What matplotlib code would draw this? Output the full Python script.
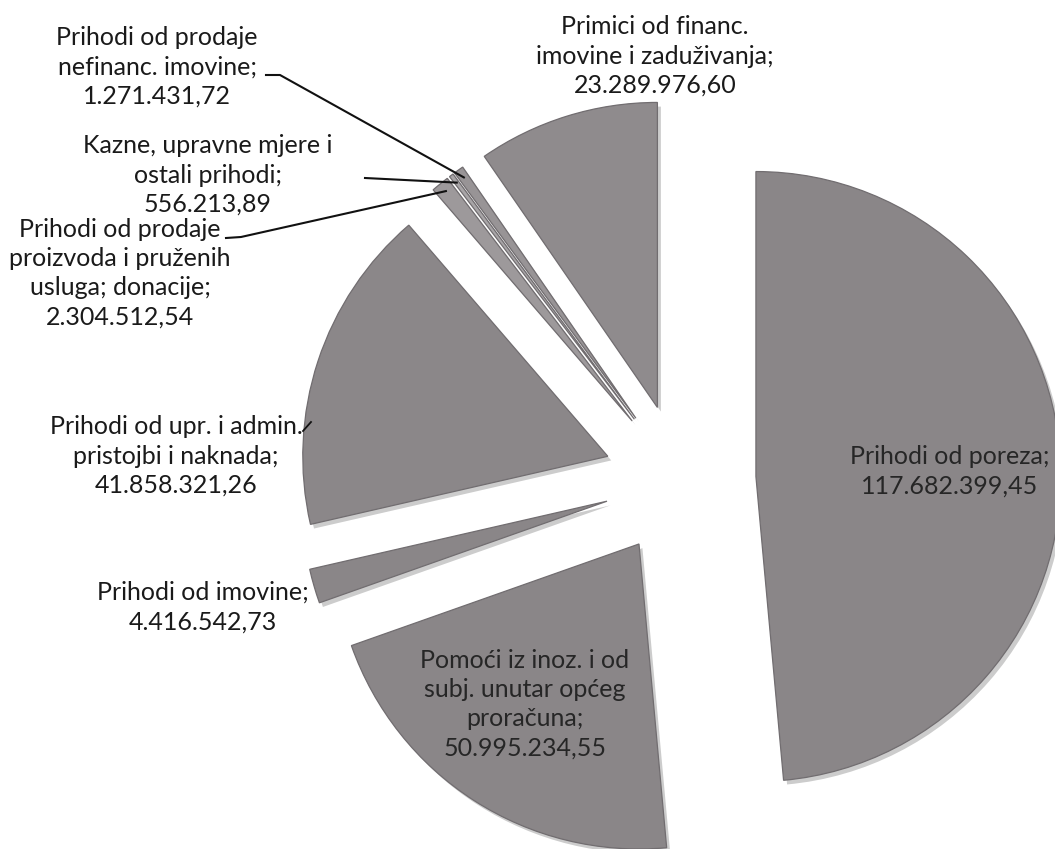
import matplotlib
matplotlib.use("Agg")
import matplotlib.pyplot as plt
import matplotlib.patheffects as pe
import numpy as np

# ---- data (clockwise from 12 o'clock) ----
categories = [
    "Prihodi od poreza",
    "Pomoći iz inoz. i od\nsubj. unutar općeg\nproračuna",
    "Prihodi od imovine",
    "Prihodi od upr. i admin.\npristojbi i naknada",
    "Prihodi od prodaje\nproizvoda i pruženih\nusluga; donacije",
    "Kazne, upravne mjere i\nostali prihodi",
    "Prihodi od prodaje\nnefinanc. imovine",
    "Primici od financ.\nimovine i zaduživanja",
]
values = [117682399.45, 50995234.55, 4416542.73, 41858321.26,
          2304512.54, 556213.89, 1271431.72, 23289976.60]

def hr_fmt(v):
    s = f"{v:,.2f}"
    return s.replace(",", "X").replace(".", ",").replace("X", ".")

labels = [f"{c};\n{hr_fmt(v)}" for c, v in zip(categories, values)]

# ---- layout ----
W, H = 1055, 849
fig = plt.figure(figsize=(W / 100, H / 100), dpi=100)
ax = fig.add_axes([0, 0, 1, 1])

def Y(py):
    return H - py

center = (680, Y(480))
radius = 305
explode_px = 76
slice_colors = ["#8a8688", "#8a8688", "#8a8688", "#8b8789",
                "#9d999b", "#a8a5a7", "#989496", "#8f8b8d"]

wedges, _ = ax.pie(values, startangle=90, counterclock=False,
                   center=center, radius=radius,
                   explode=[explode_px] * len(values),
                   colors=slice_colors,
                   wedgeprops=dict(edgecolor="#716d70", linewidth=0.9))
for w in wedges:
    w.set_path_effects([pe.SimplePatchShadow(offset=(2.5, -3), shadow_rgbFace="black", alpha=0.2),
                        pe.Normal()])

ax.set_xlim(0, W)
ax.set_ylim(0, H)
ax.set_aspect("equal")
ax.axis("off")

font = dict(family=["Lato", "DejaVu Sans"], fontsize=18, linespacing=1.33,
            ha="center", va="center")

# label centres (pixel coords)
label_pos = [
    (950, 471),   # poreza
    (525, 704),   # pomoci
    (203, 607),   # imovine
    (176, 456),   # upr
    (120, 273),   # proizvoda
    (208, 175),   # kazne
    (157, 67),    # nefinanc
    (655, 56),    # primici
]
text_colors = ["#262626", "#262626"] + ["#1a1a1a"] * 6
for lab, (px, pyy), tc in zip(labels, label_pos, text_colors):
    ax.text(px, Y(pyy), lab, color=tc, **font)

# leader lines for the thin slices: start at label, end at the wedge's outer arc
def arc_point(w, frac=0.5, shrink=0.0):
    t = np.deg2rad(w.theta1 + (w.theta2 - w.theta1) * frac)
    cx, cy = w.center
    r = w.r * (1 - shrink)
    return cx + r * np.cos(t), cy + r * np.sin(t)

leaders = [
    (6, [(266, 75), (280, 75)]),
    (5, [(365, 178)]),
    (4, [(226, 238), (241, 237)]),
]
for idx, pts in leaders:
    ex, ey = arc_point(wedges[idx], 0.5, 0.03)
    xs = [p[0] for p in pts] + [ex]
    ys = [Y(p[1]) for p in pts] + [ey]
    ax.plot(xs, ys, color="#111111", lw=1.5)

# small tick after "admin." pointing to its slice
ax.plot([303, 311], [Y(431), Y(422)], color="#111111", lw=1.3)

fig.savefig("out.png", dpi=100)
